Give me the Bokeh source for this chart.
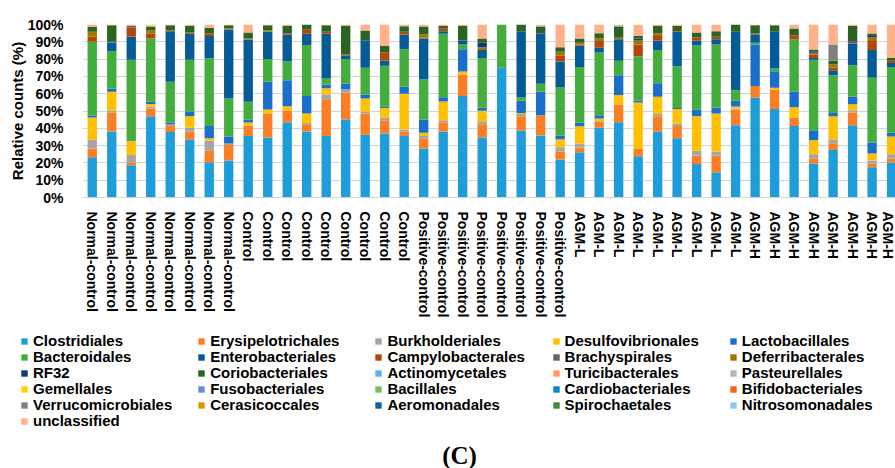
from bokeh.plotting import figure
from bokeh.layouts import column
from bokeh.models import (ColumnDataSource, FixedTicker, PrintfTickFormatter,
                          Range1d, Legend, LegendItem, Label)
from bokeh.embed import file_html
from bokeh.resources import INLINE

# Sample groups (one bar per animal)
samples = (["Normal-control"] * 8 + ["Control"] * 9 + ["Positive-control"] * 8
           + ["AGM-L"] * 9 + ["AGM-H"] * 8)

# Relative abundance (%) of each order, per sample
clostridiales = [23.3, 38.2, 18.7, 47.0, 37.8, 33.5, 20.4, 21.4, 35.5, 34.7, 43.5, 38.2, 35.5, 45.1,
                 36.2, 37.0, 35.5, 28.3, 38.2, 58.6, 34.7, 75.3, 38.7, 35.8, 22.0, 26.2, 40.5, 43.5,
                 23.9, 38.2, 34.3, 19.3, 14.6, 41.8, 57.8, 51.1, 41.4, 19.7, 27.4, 41.8, 17.5, 20.2]
erysipelotrichales = [5.0, 10.9, 1.5, 4.4, 4.0, 4.5, 6.6, 8.9, 5.9, 13.9, 6.8, 4.2, 21.3, 15.4,
                      12.4, 7.7, 2.7, 6.0, 5.3, 12.5, 7.7, 0, 8.3, 11.8, 4.6, 2.7, 3.2, 10.3,
                      4.4, 8.8, 7.1, 5.0, 9.7, 9.1, 6.6, 11.3, 4.7, 2.8, 4.0, 7.3, 2.0, 2.3]
burkholderiales = [5.2, 1.2, 4.3, 1.0, 0.4, 2.3, 5.9, 0.9, 0, 0, 0, 0.6, 2.7, 2.1,
                   0.9, 1.5, 1.1, 1.2, 1.2, 0, 1.3, 0, 1.2, 0, 2.5, 2.3, 0.4, 0,
                   0, 1.2, 1.4, 2.7, 2.3, 0.5, 0, 0, 0, 2.5, 2.1, 1.4, 1.9, 2.5]
desulfovibrionales = [12.7, 10.8, 8.1, 1.7, 0, 6.7, 1.4, 0, 2.0, 2.3, 2.5, 5.6, 3.7, 0,
                      7.7, 5.6, 20.6, 1.9, 10.8, 1.7, 6.4, 0, 0.6, 0, 4.6, 10.0, 1.6, 5.4,
                      26.6, 10.0, 8.3, 20.0, 22.0, 1.2, 0, 1.0, 6.1, 8.1, 13.5, 3.4, 4.0, 10.3]
lactobacillales = [1.2, 1.9, 0.5, 1.2, 1.2, 2.7, 7.1, 4.1, 1.7, 16.0, 15.0, 10.0, 2.1, 3.1,
                   2.3, 0.6, 4.1, 7.7, 2.5, 12.9, 1.9, 0, 7.1, 13.5, 2.1, 2.0, 1.9, 11.5,
                   1.2, 7.9, 0.7, 3.7, 3.4, 3.3, 24.0, 9.6, 8.9, 5.8, 1.9, 4.3, 6.4, 2.1]
bacteroidales = [42.6, 21.6, 46.5, 36.6, 23.5, 29.9, 39.1, 21.9, 10.2, 13.1, 10.8, 29.5, 3.5, 14.3,
                 15.5, 23.7, 21.7, 23.1, 36.6, 2.7, 28.7, 24.7, 1.9, 4.6, 27.8, 32.3, 36.2, 8.3,
                 25.6, 19.1, 24.1, 37.2, 36.4, 6.1, 1.0, 1.6, 30.4, 40.7, 21.8, 18.3, 37.4, 38.1]
enterobacteriales = [0, 5.0, 13.5, 0, 29.2, 15.0, 12.9, 39.9, 36.0, 15.8, 15.6, 6.5, 25.8, 1.9,
                     15.9, 2.9, 8.5, 23.7, 1.5, 2.4, 4.5, 0, 38.0, 29.1, 15.0, 12.2, 2.7, 12.5,
                     0, 5.6, 19.9, 2.9, 3.1, 33.8, 4.8, 21.2, 0, 1.1, 2.9, 12.5, 16.0, 2.3]
campylobacterales = [2.9, 0, 5.2, 2.7, 0.5, 0.8, 1.4, 0, 0, 0, 0.8, 2.3, 1.2, 0.8,
                     0, 4.8, 1.6, 0.6, 1.4, 0, 0, 0, 0, 0, 3.3, 0.7, 3.9, 0,
                     6.7, 2.6, 0.5, 1.7, 1.4, 0, 0.6, 0, 2.3, 2.0, 1.4, 0, 5.2, 1.2]
brachyspirales = [0, 0.4, 0.9, 0, 0, 0, 0, 0, 0, 0, 0, 0, 0, 0,
                  0, 0, 0, 0, 0, 0, 0, 0, 0, 0, 0, 0, 0, 0,
                  0, 0, 0, 0, 0, 0, 0, 0, 0, 0, 0, 1.4, 0, 0]
deferribacterales = [2.9, 0, 0, 1.9, 0, 0, 0, 0.6, 0.6, 0.7, 0, 0, 0, 0,
                     0, 0, 0, 1.9, 0, 0, 1.7, 0, 0, 0, 2.3, 1.0, 1.5, 0.8,
                     2.4, 1.4, 0, 0, 0, 0, 0, 0, 0, 0.9, 1.9, 0, 2.1, 0]
rf32 = [0, 0, 0, 0, 0, 0, 0, 0, 0, 0, 0, 0, 0, 0,
        0, 0, 0, 0, 0, 0, 2.5, 0, 0, 0, 0, 0, 0, 0,
        1.1, 0, 0, 0, 0, 0, 0, 0, 0, 1.0, 0, 0, 0.9, 0]
coriobacteriales = [2.7, 9.6, 0, 2.3, 3.0, 3.8, 3.3, 1.9, 3.5, 3.1, 4.2, 3.1, 3.8, 16.5,
                    5.6, 3.9, 3.2, 4.4, 1.7, 8.4, 2.5, 0, 4.2, 3.9, 2.7, 2.5, 3.1, 6.2,
                    1.5, 4.4, 2.9, 2.9, 3.2, 4.2, 4.8, 3.8, 3.9, 0.9, 2.1, 8.8, 1.4, 1.7]
actinomycetales = [0, 0, 0, 0, 0, 0, 0, 0, 0, 0, 0, 0, 0, 0,
                   0, 0, 0, 0, 0, 0, 0, 0, 0, 0.6, 0, 0, 0, 0.6,
                   0, 0, 0, 0, 0, 0, 0, 0, 0, 0, 0, 0, 0, 0]
gemellales = [0, 0.4, 0, 0.6, 0, 0, 0, 0, 0, 0, 0, 0, 0, 0,
              0, 0, 0, 0, 0, 0, 0, 0, 0, 0, 0, 0, 0, 0,
              0, 0, 0, 0, 0, 0, 0, 0, 0, 0, 0, 0, 0, 0]
verrucomicrobiales = [0, 0, 0, 0, 0, 0, 0, 0, 0, 0, 0, 0, 0, 0,
                      0, 0, 0, 0, 0, 0, 0, 0, 0, 0, 0, 0, 0, 0,
                      0, 0, 0, 0, 0, 0, 0, 0, 0, 0, 9.4, 0, 0, 0]
unclassified = [1.5, 0, 0.8, 0.6, 0.4, 0.8, 1.9, 0.4, 4.6, 0.4, 0.8, 0, 0.4, 0.8,
                3.5, 12.3, 1.0, 1.2, 0.8, 0.8, 8.1, 0, 0, 0.7, 13.1, 8.1, 5.0, 0.9,
                6.6, 0.8, 0.8, 4.6, 3.9, 0, 0.4, 0.4, 2.3, 14.5, 11.6, 0.8, 5.2, 19.3]
absent = [0] * len(samples)  # orders listed in the key but below detection here

# Stack order = key order (row by row)
orders = [
    ("Clostridiales", clostridiales, "#1F9DD9"),
    ("Erysipelotrichales", erysipelotrichales, "#FA7F24"),
    ("Burkholderiales", burkholderiales, "#A5A5A5"),
    ("Desulfovibrionales", desulfovibrionales, "#FFC000"),
    ("Lactobacillales", lactobacillales, "#1A6FCB"),
    ("Bacteroidales", bacteroidales, "#45AD3E"),
    ("Enterobacteriales", enterobacteriales, "#045B96"),
    ("Campylobacterales", campylobacterales, "#B5460A"),
    ("Brachyspirales", brachyspirales, "#636363"),
    ("Deferribacterales", deferribacterales, "#A17600"),
    ("RF32", rf32, "#0C3C7C"),
    ("Coriobacteriales", coriobacteriales, "#2A6322"),
    ("Actinomycetales", actinomycetales, "#5DB2E2"),
    ("Turicibacterales", absent, "#FF9966"),
    ("Pasteurellales", absent, "#B7B7B7"),
    ("Gemellales", gemellales, "#FFD100"),
    ("Fusobacteriales", absent, "#5E90D6"),
    ("Bacillales", absent, "#74BF65"),
    ("Cardiobacteriales", absent, "#0A85C6"),
    ("Bifidobacteriales", absent, "#F4650F"),
    ("Verrucomicrobiales", verrucomicrobiales, "#808080"),
    ("Cerasicoccales", absent, "#D89C00"),
    ("Aeromonadales", absent, "#1061AA"),
    ("Spirochaetales", absent, "#3D8B33"),
    ("Nitrosomonadales", absent, "#8EC8EE"),
    ("unclassified", unclassified, "#FFB18A"),
]
names = [o[0] for o in orders]
colors = [o[2] for o in orders]

data = {"x": list(range(len(samples)))}
for name, vals, _ in orders:
    data[name] = vals
src = ColumnDataSource(data)

FONT = "Liberation Sans"
W = 895
CHART_H, KEY_H = 325, 143

p = figure(width=W, height=CHART_H, x_range=Range1d(-0.5, 41.2), y_range=Range1d(0, 100),
           toolbar_location=None, output_backend="svg",
           min_border_left=82, min_border_right=0, min_border_top=24, min_border_bottom=128)
p.frame_align = False
p.outline_line_color = None
p.background_fill_color = "white"
p.border_fill_color = "white"

p.vbar_stack(names, x="x", width=0.48, color=colors, line_color=None, source=src)

p.xgrid.visible = False
p.ygrid.grid_line_color = "#D4D4D4"
p.ygrid.grid_line_width = 1
p.ygrid.ticker = FixedTicker(ticks=list(range(0, 101, 10)))

ya = p.yaxis[0]
ya.ticker = FixedTicker(ticks=list(range(0, 101, 10)))
ya.formatter = PrintfTickFormatter(format="%d%%")
ya.axis_line_color = None
ya.major_tick_line_color = None
ya.minor_tick_line_color = None
ya.major_label_standoff = 13
ya.major_label_text_font = FONT
ya.major_label_text_font_style = "bold"
ya.major_label_text_font_size = "14px"
ya.major_label_text_color = "black"
ya.axis_label = "Relative counts (%)"
ya.axis_label_text_font = FONT
ya.axis_label_text_font_style = "bold"
ya.axis_label_text_font_size = "15px"
ya.axis_label_text_color = "black"
ya.axis_label_standoff = -1

xa = p.xaxis[0]
xa.ticker = FixedTicker(ticks=list(range(len(samples))))
xa.major_label_overrides = {i: s for i, s in enumerate(samples)}
xa.major_label_orientation = "vertical"
xa.axis_line_color = "#D4D4D4"
xa.major_tick_line_color = None
xa.minor_tick_line_color = None
xa.major_label_standoff = 8
xa.major_label_text_font = FONT
xa.major_label_text_font_style = "bold"
xa.major_label_text_font_size = "14px"
xa.major_label_text_color = "black"

# Key panel under the chart: 5 columns filled row by row on a fixed grid
k = figure(width=W, height=KEY_H, x_range=(0, 1), y_range=(0, 1),
           toolbar_location=None, output_backend="svg",
           x_axis_location=None, y_axis_location=None, min_border=0)
k.frame_align = False
k.outline_line_color = None
k.grid.visible = False

col_pitch, row_pitch = 177.2, 16.0
first_cx, first_cy = 24.0, 340.5 - CHART_H   # centre of the first swatch
box = 18                                     # height of one key entry
for i, (name, _, col) in enumerate(orders):
    r = k.scatter(x=[-10], y=[-10], marker="square", fill_color=col, line_color=None)
    row, c = divmod(i, 5)
    cx = first_cx + col_pitch * c
    cy = first_cy + row_pitch * row
    leg = Legend(items=[LegendItem(label=name, renderers=[r])],
                 location=(cx - 8, KEY_H - (cy + box / 2)),
                 padding=0, margin=0, spacing=0,
                 glyph_width=16, glyph_height=box, label_standoff=1, label_height=box,
                 label_text_font=FONT, label_text_font_style="bold",
                 label_text_font_size="15px", label_text_color="black",
                 border_line_color=None, background_fill_alpha=0)
    k.add_layout(leg, "center")

# Panel letter
k.add_layout(Label(x=459, y=13, x_units="screen", y_units="screen",
                   text="(C)", text_align="center", text_baseline="alphabetic",
                   text_font="Liberation Serif", text_font_style="bold",
                   text_font_size="25px", text_color="black"))

layout = column(p, k, spacing=0)
open("out.html", "w").write(file_html(layout, INLINE))
